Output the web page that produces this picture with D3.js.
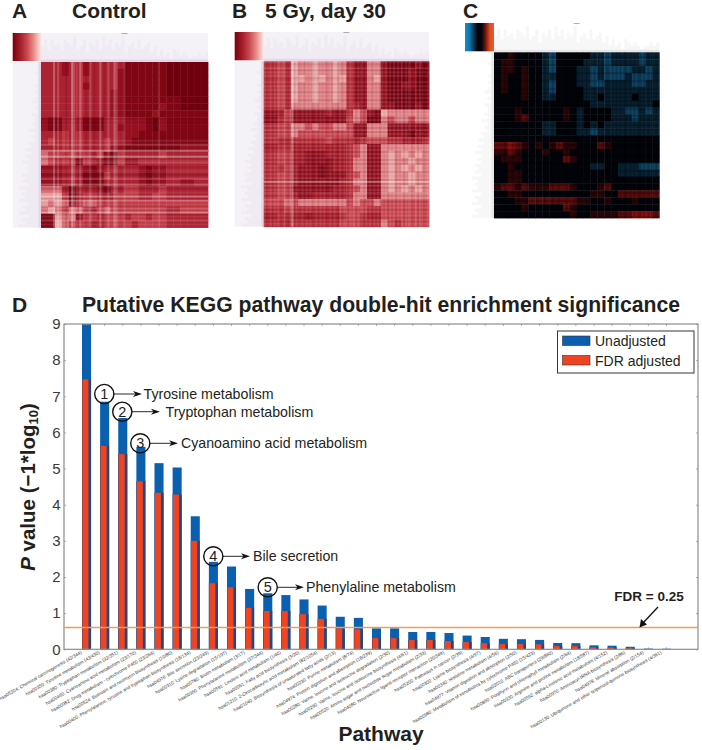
<!DOCTYPE html>
<html><head><meta charset="utf-8">
<script src="https://cdn.jsdelivr.net/npm/d3@7"></script>
<style>html,body{margin:0;padding:0;background:#fff}svg{display:block}text{font-family:"Liberation Sans",Arial,sans-serif}</style>
</head><body><div id="c"></div>
<script>
// ---------- Panel D data ----------
const pathways = [
"hsa05204: Chemical carcinogenesis (42/344)","hsa00350: Tyrosine metabolism (43/430)","hsa00380: Tryptophan metabolism (32/351)","hsa00460: Cyanoamino acid metabolism (23/170)","hsa00982: Drug metabolism - cytochrome P450 (23/264)","hsa00524: Butirosin and neomycin biosynthesis (10/80)","hsa00400: Phenylalanine, tyrosine and tryptophan biosynthesis (18/134)","hsa04976: Bile secretion (23/243)","hsa00310: Lysine degradation (15/197)","hsa00780: Biotin metabolism (3/17)","hsa00360: Phenylalanine metabolism (37/344)","hsa00591: Linoleic acid metabolism (1/40)","hsa00061: Fatty acid biosynthesis (3/20)","hsa01210: 2-Oxocarboxylic acid metabolism (82/1054)","hsa01040: Biosynthesis of unsaturated fatty acids (2/13)","hsa00230: Purine metabolism (8/74)","hsa04974: Protein digestion and absorption (18/239)","hsa00280: Valine, leucine and isoleucine degradation (2/30)","hsa00290: Valine, leucine and isoleucine biosynthesis (4/61)","hsa00520: Amino sugar and nucleotide sugar metabolism (2/33)","hsa04080: Neuroactive ligand-receptor interaction (20/349)","hsa05200: Pathways in cancer (2/39)","hsa00300: Lysine biosynthesis (4/97)","hsa00340: Histidine metabolism (4/56)","hsa04977: Vitamin digestion and absorption (2/50)","hsa00980: Metabolism of xenobiotics by cytochrome P450 (15/423)","hsa02010: ABC transporters (29/860)","hsa00860: Porphyrin and chlorophyll metabolism (2/64)","hsa00330: Arginine and proline metabolism (18/587)","hsa00592: alpha-Linolenic acid metabolism (4/152)","hsa00970: Aminoacyl-tRNA biosynthesis (2/86)","hsa04978: Mineral absorption (2/154)","hsa00130: Ubiquinone and other terpenoid-quinone biosynthesis (4/361)"];
const unadjusted = [9,6.85,6.4,5.6,5.15,5.03,3.68,2.42,2.29,1.67,1.55,1.5,1.38,1.21,0.9,0.87,0.58,0.58,0.48,0.48,0.45,0.38,0.34,0.29,0.28,0.26,0.175,0.17,0.11,0.1,0.07,0.02,0.015];
const fdrAdjusted = [7.47,5.63,5.4,4.65,4.33,4.28,3.0,1.83,1.72,1.15,1.06,1.06,0.97,0.84,0.58,0.55,0.31,0.31,0.26,0.26,0.23,0.2,0.17,0.15,0.15,0.14,0.09,0.09,0.055,0.05,0.03,0.005,0.003];
const yTicks = [0,1,2,3,4,5,6,7,8,9];
const fdrLine = 0.602;
const annotations = ["Tyrosine metabolism","Tryptophan metabolism","Cyanoamino acid metabolism","Bile secretion","Phenylaline metabolism"];

// ---------- Heatmap data (digit = level) ----------
const gridA = ["666765766666888888999999","666765766667888888999999","666665666667888888999999","666665766667888888999999","666665666677888888999999","666665666677888888889999","666665666677888887889999","666665666677888878888888","788666888666777897888888","788666888667777897888888","666565666666778888888888","656565666566788888888888","666565666577888888887777","455555565785666665666666","456568567885776666666666","777666787666667877666666","777666888566667877666666","777666888666667877667766","444696667866556665666666","333596556665556655666666","343475445555555555555555","434544565455555555665555","883447556555655655666666","882455566555565555666666"];
const gridB = ["665634434434688448999989","665634434434688448999899","665633433433688438999899","665634434434688448998899","665634434434688448999999","665634434434688448999999","665644444444678448899989","887588888788645893444444","886588888888545994544544","665544545544588444888888","665545555555588444888988","666666666566676555667776","776677777777654884444444","665577888777654884343434","665577888877644884344344","666578889877644884343434","665578889888654884344344","665578888887644884344344","665588888877654884343434","665578877777644884444444","555454444444545545555555","666566666665555665555555","776677877776556775555555","666666666665556664565555"];
const gridC = ["445444432444443323333233","455444432444433323333233","455454432444332322223323","454454433444332322232223","454454432444332233332233","454454432444433333333333","444454433444433433334333","444444444444443333333334","444544444454344443322323","444564444454344443332333","444444433444343433333333","444444433444332333333333","444444444444444444444444","667654545655444654444444","556544454454444444444444","455544444465444444444444","445444444444443344333222","445544444444444444333333","445544444444444444444444","566565556665444564444444","445544444444445544666666","444556666666554454445444","444454444465444444444444","444444444445445555667776"];
const colStripesA = "5555558575"+"5535597537"+"5535753558"+"5357558754"+"5655555555"+"5555555565"+"55555555555555555555555";
const rowStripesA = "5555555555"+"5555555555"+"5555555535"+"4555555556"+"5754955946"+"7545653575"+"5853565948"+"5647594657565";
const colStripesB = "6456465645"+"6436946456"+"4656456465"+"6456465364"+"6546564656"+"4656465646"+"5646564656"+"4656456465"+"456";
const rowStripesB = "6456465645"+"6465646564"+"6564656546"+"3564646564"+"6465646564"+"6465646564"+"9464656466"+"4656465646"+"465";
const colStripesC = "5555545554"+"5545554555"+"5455545554"+"5545554555"+"4545454545"+"4545454454"+"5454544545"+"4544545454"+"545";
const rowStripesC = "5545554555"+"4555455545"+"4545454545"+"5454454545"+"5545554555"+"5455545554"+"5545554555"+"4555455545"+"554";
const dendroTop = "5747564765845736574857465835647456352423143232122323";
const dendroLeft = "1112111212123121322324232435354645465647565746574657";
const redKey = ["#7a0010","#a01c28","#c8464e","#e88f8c","#fbe6e2"];
const divKey = ["#0c8fca","#1278ad","#0e3f62","#04060c","#04060c","#70190f","#e04a22","#ee5a28"];

const W=702,H=750;
const svg=d3.select("#c").append("svg").attr("width",W).attr("height",H).attr("viewBox",`0 0 ${W} ${H}`);
const defs=svg.append("defs");
const ink="#231f20";

const redScale=d3.scaleLinear().domain([0,3,4,5,6,7,8,9]).range(["#f6d0cc","#eaa3a2","#dd7c80","#c9454e","#b62c38","#a51a27","#900c1b","#780010"]);
const redScaleA=d3.scaleLinear().domain([0,3,4,5,6,7,8,9]).range(["#f6d0cc","#e59a9a","#d66a70","#c13a45","#ab2230","#96101f","#800614","#70000e"]);
const divScale=d3.scaleLinear().domain([0,1,2,3,4,5,6,8]).range(["#1f7fb0","#155f88","#0e4464","#082233","#02040a","#2a0608","#5c0c0c","#b81212"]);

function heatmap(id,o){
  const g=svg.append("g").attr("id",id).style("filter","blur(0.6px)");
  const {mx0,mx1,my0,my1,kx0,ky0}=o;
  g.append("rect").attr("x",mx0).attr("y",ky0).attr("width",mx1-mx0).attr("height",my0-ky0).attr("fill",o.stripBg);
  g.append("rect").attr("x",kx0).attr("y",my0).attr("width",mx0-kx0).attr("height",my1-my0).attr("fill",o.stripBg);
  const tx=d3.scaleBand().domain(d3.range(dendroTop.length)).range([mx0,mx1]);
  const th=d3.scaleLinear().domain([0,9]).range([0,my0-ky0]);
  g.append("g").selectAll("rect").data(dendroTop.split("").map(Number)).join("rect")
    .attr("x",(d,i)=>tx(i)).attr("width",tx.bandwidth()).attr("y",d=>my0-th(d)).attr("height",d=>th(d))
    .attr("fill",o.stripInk).attr("opacity",.4);
  const ly=d3.scaleBand().domain(d3.range(dendroLeft.length)).range([my0,my1]);
  const lw=d3.scaleLinear().domain([0,9]).range([0,mx0-kx0]);
  g.append("g").selectAll("rect").data(dendroLeft.split("").map(Number)).join("rect")
    .attr("y",(d,i)=>ly(i)).attr("height",ly.bandwidth()).attr("x",d=>mx0-lw(d)).attr("width",d=>lw(d))
    .attr("fill",o.stripInk).attr("opacity",.4);
  g.append("rect").attr("x",mx0).attr("y",my0-2.5).attr("width",mx1-mx0).attr("height",2.5).attr("fill",o.edge).attr("opacity",.4);
  g.append("rect").attr("x",mx0-2.5).attr("y",my0).attr("width",2.5).attr("height",my1-my0).attr("fill",o.edge).attr("opacity",.4);
  const gid=id+"Key";
  const lg=defs.append("linearGradient").attr("id",gid);
  lg.selectAll("stop").data(o.key).join("stop").attr("offset",(d,i)=>i/(o.key.length-1)).attr("stop-color",d=>d);
  g.append("rect").attr("x",kx0).attr("y",ky0).attr("width",mx0-kx0).attr("height",my0-ky0-1).attr("fill",`url(#${gid})`);
  const n=o.grid.length;
  const x=d3.scaleBand().domain(d3.range(n)).range([mx0,mx1]);
  const y=d3.scaleBand().domain(d3.range(n)).range([my0,my1]);
  const cells=o.grid.flatMap((row,r)=>row.split("").map((v,c)=>({r,c,v:+v})));
  g.append("g").selectAll("rect").data(cells).join("rect")
    .attr("x",d=>x(d.c)).attr("y",d=>y(d.r)).attr("width",x.bandwidth()+.4).attr("height",y.bandwidth()+.4)
    .attr("fill",d=>o.scale(d.v));
  const sx=d3.scaleBand().domain(d3.range(o.cols.length)).range([mx0,mx1]);
  const sy=d3.scaleBand().domain(d3.range(o.rows.length)).range([my0,my1]);
  const tone=d=>d>5?o.lightStripe:o.darkStripe;
  const op=d=>Math.abs(d-5)*o.stripeOp;
  g.append("g").selectAll("rect").data(o.cols.split("").map(Number)).join("rect")
    .attr("x",(d,i)=>sx(i)).attr("y",my0).attr("width",sx.bandwidth()).attr("height",my1-my0)
    .attr("fill",tone).attr("opacity",op);
  g.append("g").selectAll("rect").data(o.rows.split("").map(Number)).join("rect")
    .attr("x",mx0).attr("y",(d,i)=>sy(i)).attr("width",mx1-mx0).attr("height",sy.bandwidth())
    .attr("fill",tone).attr("opacity",op);
  g.append("rect").attr("x",(mx0+mx1)/2-3).attr("y",ky0).attr("width",6).attr("height",.8).attr("fill","#999");
}
heatmap("hmA",{kx0:12.7,ky0:33,mx0:41,mx1:208,my0:62,my1:227.5,grid:gridA,cols:colStripesA,rows:rowStripesA,scale:redScaleA,key:redKey,stripBg:"#f4f2f6",stripInk:"#ece2ee",edge:"#dcb4d8",lightStripe:"#fff",darkStripe:"#5a0010",stripeOp:.09});
heatmap("hmB",{kx0:234.7,ky0:32,mx0:263.7,mx1:429,my0:61.3,my1:226.7,grid:gridB,cols:colStripesB,rows:rowStripesB,scale:redScale,key:redKey,stripBg:"#f4f2f6",stripInk:"#ece2ee",edge:"#dcb4d8",lightStripe:"#fff",darkStripe:"#5a0010",stripeOp:.09});
heatmap("hmC",{kx0:465,ky0:23,mx0:494,mx1:659.3,my0:52.3,my1:218,grid:gridC,cols:colStripesC,rows:rowStripesC,scale:divScale,key:divKey,stripBg:"#ffffff",stripInk:"#ececec",edge:"#d0d0d0",lightStripe:"#000",darkStripe:"#000",stripeOp:.2});

const bold=(t,x,y,s,a)=>svg.append("text").attr("x",x).attr("y",y).attr("font-size",s).attr("font-weight",700).attr("fill",ink).attr("text-anchor",a||"start").text(t);
bold("A",12,18,21);bold("Control",72,18,21);
bold("B",232,18,21);bold("5 Gy, day 30",265,18,21);
bold("C",463,18,21);bold("D",12,312,21);
bold("Putative KEGG pathway double-hit enrichment significance",381,312,21.2,"middle");
bold("Pathway",381,741,21,"middle");

// ---------- Panel D chart ----------
const L=64,R=698,T=324,B=649.3;
const x=d3.scaleBand().domain(pathways).range([82,671]).paddingInner(.5);
const y=d3.scaleLinear().domain([0,9]).range([B,T]);
const c=svg.append("g").attr("id","bars").style("filter","blur(0.25px)");
c.selectAll(".u").data(unadjusted).join("rect").attr("class","u")
  .attr("x",(d,i)=>x(pathways[i])).attr("width",x.bandwidth()).attr("y",d=>y(d)).attr("height",d=>B-y(d)).attr("fill","#0a60ae");
c.selectAll(".e").data(fdrAdjusted).join("rect").attr("class","e")
  .attr("x",(d,i)=>x(pathways[i])).attr("width",x.bandwidth()).attr("y",d=>y(d)).attr("height",d=>B-y(d)).attr("fill","#2a4677");
c.selectAll(".f").data(fdrAdjusted).join("rect").attr("class","f")
  .attr("x",(d,i)=>x(pathways[i])+.4).attr("width",x.bandwidth()-3).attr("y",d=>y(d)).attr("height",d=>B-y(d)).attr("fill","#ee4423");

const ax=svg.append("g").attr("id","axes");
const axL=ax.append("g").attr("transform",`translate(${L},0)`).call(d3.axisLeft(y).tickValues(yTicks).tickSizeInner(-2).tickSizeOuter(0).tickPadding(3.5));
axL.selectAll("text").attr("font-size",15).attr("fill","#3a3a3a").style("font-family",'"Liberation Sans",Arial,sans-serif');
const axR=ax.append("g").attr("transform",`translate(${R},0)`).call(d3.axisRight(y).tickValues(yTicks).tickSizeInner(-2).tickSizeOuter(0).tickFormat(""));
const axB=ax.append("g").attr("transform",`translate(0,${B})`).call(d3.axisBottom(x).tickSizeInner(-2).tickSizeOuter(0).tickFormat(""));
const axT=ax.append("g").attr("transform",`translate(0,${T})`).call(d3.axisTop(x).tickSizeInner(-2).tickSizeOuter(0).tickFormat(""));
[axL,axR,axB,axT].forEach(a=>{a.select(".domain").remove();a.selectAll("line").attr("stroke","#8a8a8a").attr("stroke-width",.7);});
ax.append("rect").attr("x",L).attr("y",T).attr("width",R-L).attr("height",B-T).attr("fill","none").attr("stroke","#8c8c8c").attr("stroke-width",1.2);

svg.append("g").selectAll("text").data(pathways).join("text")
  .attr("transform",d=>`translate(${x(d)+x.bandwidth()/2-4.5},${B+4}) rotate(-30)`)
  .attr("text-anchor","end").attr("font-size",4.7).attr("fill","#333").text(d=>d);

svg.append("line").attr("x1",L).attr("x2",R).attr("y1",y(fdrLine)).attr("y2",y(fdrLine)).attr("stroke","#f59a4e").attr("stroke-width",1.6);
bold("FDR = 0.25",649,601,13.5,"middle");
svg.append("line").attr("x1",658).attr("y1",607).attr("x2",643).attr("y2",623).attr("stroke","#111").attr("stroke-width",1.2);
svg.append("path").attr("d","M639.5,627.5L641,619L647,624.5Z").attr("fill","#111");

const yl=svg.append("text").attr("transform","translate(35,487) rotate(-90)").attr("text-anchor","middle").attr("font-size",20.5).attr("font-weight",700).attr("fill",ink);
yl.append("tspan").attr("font-style","italic").text("P");
yl.append("tspan").text(" value (\u22121*log");
yl.append("tspan").attr("font-size",13).attr("dy",3).text("10");
yl.append("tspan").attr("dy",-3).text(")");

const lg=svg.append("g").attr("id","legend");
lg.append("rect").attr("x",557.5).attr("y",331).attr("width",136.5).attr("height",42).attr("fill","#fff").attr("stroke","#3c3438").attr("stroke-width",1);
[["Unadjusted","#0a60ae",336],["FDR adjusted","#ee4423",355.5]].forEach(([t,col,yy])=>{
  lg.append("rect").attr("x",562.5).attr("y",yy).attr("width",27.5).attr("height",9.5).attr("fill",col).attr("stroke","#333").attr("stroke-width",.6);
  lg.append("text").attr("x",595).attr("y",yy+10.3).attr("font-size",14).attr("fill",ink).text(t);
});

const annoPos=[[104.3,394,142,143.5],[122.3,411.7,160,165.5],[140.3,443.3,178,181],[213.3,556.3,250,253],[267.7,587.3,304,306]];
const an=svg.append("g").attr("id","annotations");
annotations.forEach((t,i)=>{
  const [cx,cy,ax2,tx]=annoPos[i];
  an.append("circle").attr("cx",cx).attr("cy",cy).attr("r",9.6).attr("fill","none").attr("stroke","#111").attr("stroke-width",1.4);
  an.append("text").attr("x",cx).attr("y",cy+5).attr("text-anchor","middle").attr("font-size",14.5).attr("fill",ink).text(i+1);
  an.append("line").attr("x1",cx+9.6).attr("y1",cy).attr("x2",ax2-4).attr("y2",cy).attr("stroke","#111").attr("stroke-width",.9);
  an.append("path").attr("d",`M${ax2},${cy}L${ax2-9},${cy-3}L${ax2-6.5},${cy}L${ax2-9},${cy+3}Z`).attr("fill","#111");
  an.append("text").attr("x",tx).attr("y",cy+4.8).attr("font-size",14.2).attr("fill",ink).text(t);
});
</script></body></html>
